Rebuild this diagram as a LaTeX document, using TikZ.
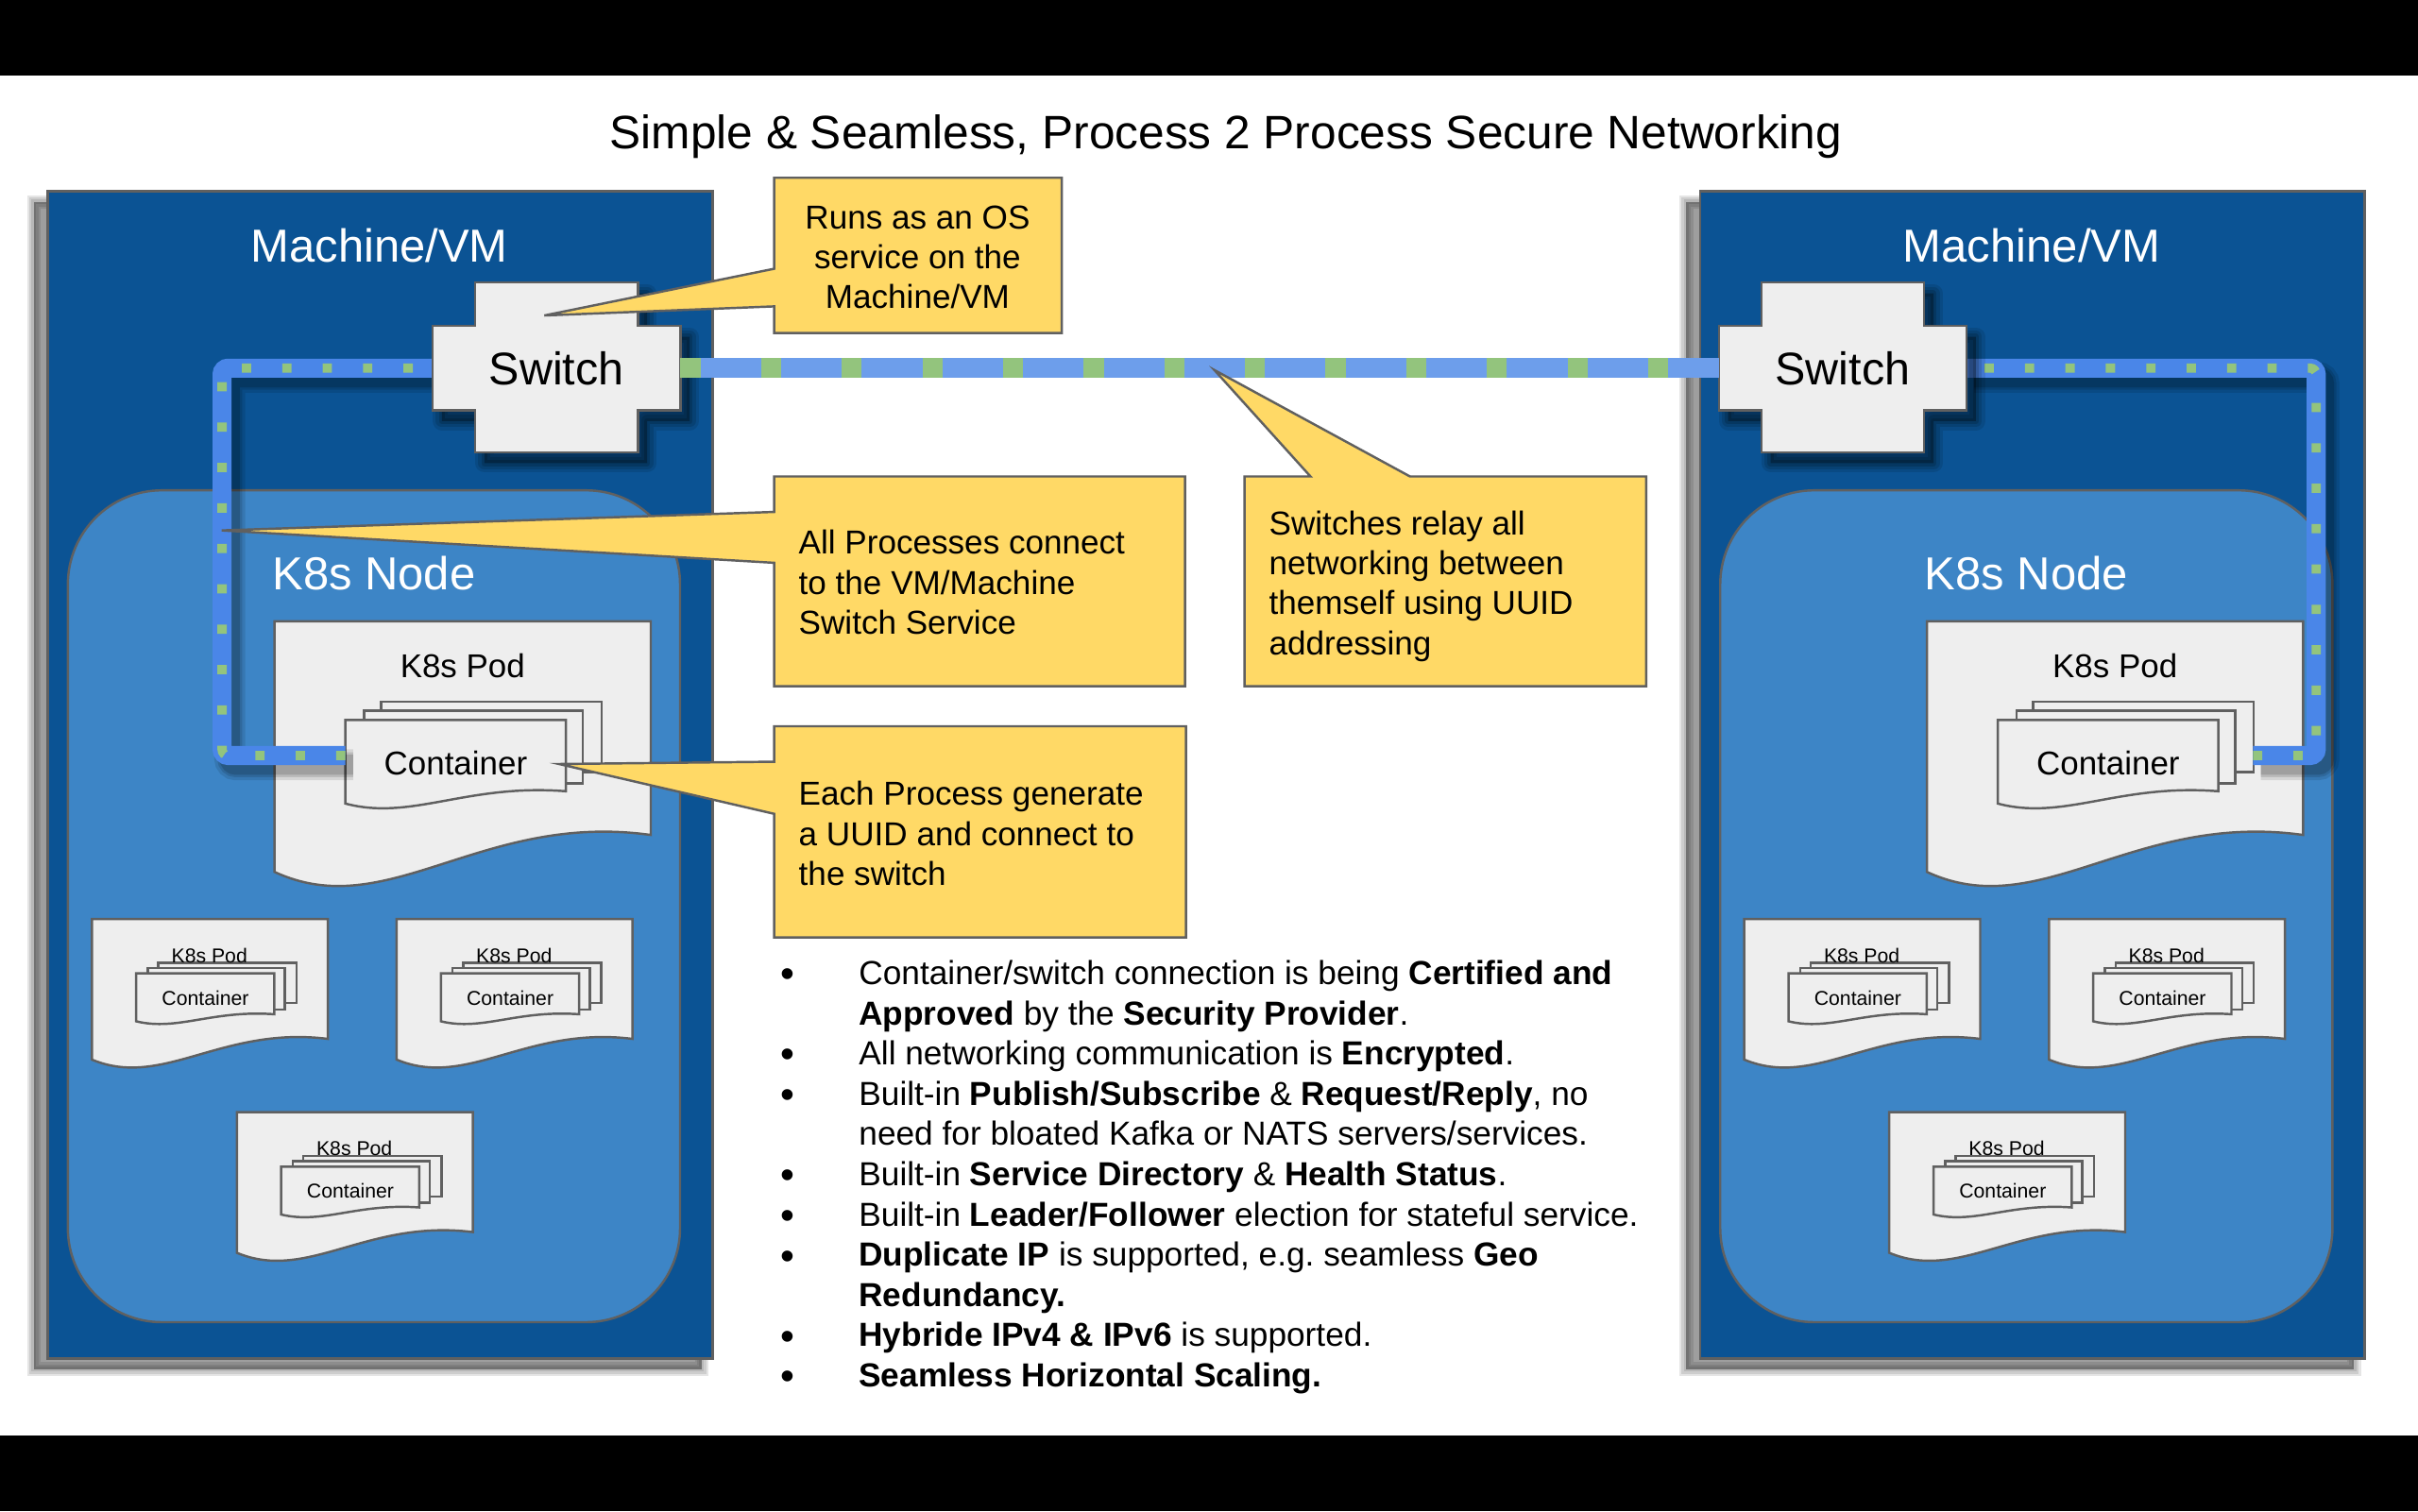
\documentclass[tikz,border=0pt]{standalone}
\usepackage{fontspec}
\setmainfont{Liberation Sans}
\usetikzlibrary{calc}
\definecolor{machblue}{HTML}{0B5394}
\definecolor{nodeblue}{HTML}{3D85C6}
\definecolor{podfill}{HTML}{EEEEEE}
\definecolor{bordergray}{HTML}{606060}
\definecolor{callyellow}{HTML}{FFD966}
\definecolor{loopblue}{HTML}{4A86E8}
\definecolor{linkblue}{HTML}{6D9EEB}
\definecolor{dotgreen}{HTML}{93C47D}
\tikzset{
  mbox/.style={fill=machblue, draw=bordergray, line width=1.5pt},
  knode/.style={fill=nodeblue, draw=bordergray, line width=1.5pt, rounded corners=61pt},
  docst/.style={fill=podfill, draw=bordergray, line width=1.5pt, line join=miter},
  swshape/.style={fill=podfill, draw=bordergray, line width=1.5pt},
  callout/.style={fill=callyellow, draw=bordergray, line width=1.5pt, line join=miter},
  loopline/.style={draw=loopblue, line width=12.3pt, rounded corners=4pt},
  loopdots/.style={draw=dotgreen, line width=6pt, dash pattern=on 6pt off 20.2pt, rounded corners=4pt},
  linkline/.style={draw=linkblue, line width=12.9pt},
  linkdash/.style={draw=dotgreen, line width=12.9pt, dash pattern=on 13pt off 39.3pt},
  basetxt/.style={inner sep=0pt, outer sep=0pt, anchor=base},
  titletxt/.style={basetxt, font=\fontsize{30.4}{36}\selectfont},
  bigtxt/.style={basetxt, text=white, font=\fontsize{30}{36}\selectfont},
  podtxt/.style={basetxt, font=\fontsize{21.4}{26}\selectfont},
  smalltxt/.style={basetxt, font=\fontsize{13}{16}\selectfont},
  swbox/.style={inner sep=0pt, outer sep=0pt, minimum width=160.6pt, minimum height=54.7pt},
  swtxt/.style={inner sep=0pt, font=\fontsize{29.7}{36}\selectfont},
  callc/.style={basetxt, font=\fontsize{21.5}{26}\selectfont},
  calll/.style={basetxt, anchor=base west, font=\fontsize{21.5}{26}\selectfont},
  bultxt/.style={basetxt, anchor=base west, font=\fontsize{21.6}{26}\selectfont},
  bulmark/.style={basetxt, font=\fontsize{26}{30}\selectfont},
}
\newcommand\docshape[4]{\begin{scope}[shift={(#1,#2)},xscale=#3,yscale=#4]
  \draw[docst] (0,0) -- (1,0) -- (1,0.81) .. controls (0.55,0.72) and (0.3,1.15) .. (0,0.95) -- cycle;
\end{scope}}
\newcommand\stackshape[4]{\begin{scope}[shift={(#1,#2)},xscale=#3,yscale=#4]
  \draw[docst] (0.161,-0.21) rectangle (1.161,0.59);
  \draw[docst] (0.084,-0.105) rectangle (1.077,0.72);
  \draw[docst] (0,0) -- (1,0) -- (1,0.81) .. controls (0.55,0.72) and (0.3,1.15) .. (0,0.95) -- cycle;
\end{scope}}
\newcommand\smallpod[3]{%
  \docshape{#1}{#2}{153}{96}
  \stackshape{#1+28.7}{#2+35.3}{89.6}{32.7}
  \node[smalltxt] (#3pod) at (#1+76.2,#2+28.3) {K8s Pod};
  \node[smalltxt] (#3con) at (#1+73.6,#2+55.9) {Container};
}
\newcommand\crosspath[1]{(#1) ++(-80.3,-27.35) -- ++(27.5,0) -- ++(0,-28.1) -- ++(105.6,0) -- ++(0,28.1) -- ++(27.5,0) -- ++(0,54.7) -- ++(-27.5,0) -- ++(0,27.3) -- ++(-105.6,0) -- ++(0,-27.3) -- ++(-27.5,0) -- cycle}
\begin{document}
\begin{tikzpicture}[x=1pt,y=-1pt]
\useasboundingbox (0,0) rectangle (1568,980);
\fill[white] (0,0) rectangle (1568,980);
\fill[black] (0,0) rectangle (1568,49);
\fill[black] (0,931) rectangle (1568,980);
\node[titletxt] (title) at (795,96.5) {Simple \& Seamless, Process 2 Process Secure Networking};

\foreach \s/\dx in {L/0,R/1071.5}{
  \foreach \k in {9,6,3}
    \draw[black, opacity=0.1, line width=\k pt] (22+\dx,131) rectangle (455+\dx,888);
  \fill[black, opacity=0.38] (22+\dx,131) rectangle (455+\dx,888);
  \draw[mbox] (31+\dx,124) rectangle (462+\dx,881);
  \node[bigtxt] (mvm\s) at (246+\dx,169.7) {Machine/VM};
  \draw[knode] (44+\dx,318) rectangle (441+\dx,857.5);
  \node[bigtxt] (k8n\s) at (242.5+\dx,382.7) {K8s Node};
  \docshape{178+\dx}{403}{244}{171}
  \stackshape{224+\dx}{467}{143}{57}
  \node[podtxt] (bigpod\s) at (300+\dx,439.7) {K8s Pod};
  \node[podtxt] (bigcon\s) at (295.5+\dx,502.7) {Container};
  \smallpod{59.6+\dx}{596}{A\s}
  \smallpod{257.2+\dx}{596}{B\s}
  \smallpod{153.6+\dx}{721.3}{C\s}
}

% switches (named boxes) and ports
\coordinate (swLc) at (360.9,238.75);
\coordinate (swRc) at (1195,238.75);
\node[swbox] (swL) at (swLc) {};
\node[swbox] (swR) at (swRc) {};
\coordinate (cLport) at (224,490);
\coordinate (cRport) at (1461,490);

% loop shadows
\foreach \k/\o in {20/0.1,16/0.12,13/0.15}{
  \draw[black, opacity=\o, line width=\k pt, rounded corners=4pt] (229,496) -- (149,496) -- (149,244.75) -- (285.6,244.75);
  \draw[black, opacity=\o, line width=\k pt, rounded corners=4pt] (1466,496) -- (1507,496) -- (1507,244.75) -- (1280,244.75);
}
% loops
\draw[loopline] (cLport) -- (144,490) -- (144,238.75) -- (swL.west);
\draw[loopdots] (cLport) -- (144,490) -- (144,238.75) -- (swL.west);
\draw[loopline] (cRport) -- (1502,490) -- (1502,238.75) -- (swR.east);
\draw[loopdots] (cRport) -- (1502,490) -- (1502,238.75) -- (swR.east);

% switch shadows and shapes
\foreach \c in {swLc,swRc}{
  \foreach \k/\o in {12/0.1,8/0.12,4/0.15}
    \draw[black, opacity=\o, line width=\k pt, line join=round] \crosspath{$(\c)+(6,7)$};
  \fill[black, opacity=0.3] \crosspath{$(\c)+(6,7)$};
  \draw[swshape] \crosspath{\c};
}
\node[swtxt] (swLt) at (swL) {Switch};
\node[swtxt] (swRt) at (swR) {Switch};

% link between switches
\draw[linkline] (swL.east) -- (swR.west);
\draw[linkdash] (swL.east) -- (swR.west);

% callouts
\coordinate (tip1) at (353,204.6);
\coordinate (tip2) at (143.7,344);
\coordinate (tip3) at (787.5,240);
\coordinate (tip4) at (362.5,495.5);
\path[callout] (502,115.3) -- (688.5,115.3) -- (688.5,216) -- (502,216) -- (502,198.7) -- (tip1) -- (502,174.3) -- cycle;
\path[callout] (502,309) -- (768.5,309) -- (768.5,445) -- (502,445) -- (502,365) -- (tip2) -- (502,332) -- cycle;
\path[callout] (807,309) -- (849.8,309) -- (tip3) -- (914.3,309) -- (1067.5,309) -- (1067.5,445) -- (807,445) -- cycle;
\path[callout] (502,471) -- (769,471) -- (769,608) -- (502,608) -- (502,527.8) -- (tip4) -- (502,494) -- cycle;

\node[callc] (c1a) at (595,148.3) {Runs as an OS};
\node[callc] (c1b) at (595,174.2) {service on the};
\node[callc] (c1c) at (595,200) {Machine/VM};
\node[calll] (c2a) at (518,359.3) {All Processes connect};
\node[calll] (c2b) at (518,385.4) {to the VM/Machine};
\node[calll] (c2c) at (518,411.5) {Switch Service};
\node[calll] (c3a) at (823,347.1) {Switches relay all};
\node[calll] (c3b) at (823,372.9) {networking between};
\node[calll] (c3c) at (823,398.7) {themself using UUID};
\node[calll] (c3d) at (823,424.5) {addressing};
\node[calll] (c4a) at (518,522.2) {Each Process generate};
\node[calll] (c4b) at (518,548.3) {a UUID and connect to};
\node[calll] (c4c) at (518,574.4) {the switch};

% bullet list
\node[bultxt] (bl1) at (557,638.5) {Container/switch connection is being \textbf{Certified and}};
\node[bultxt] (bl2) at (557,664.6) {\textbf{Approved} by the \textbf{Security Provider}.};
\node[bultxt] (bl3) at (557,690.7) {All networking communication is \textbf{Encrypted}.};
\node[bultxt] (bl4) at (557,716.8) {Built-in \textbf{Publish/Subscribe} \& \textbf{Request/Reply}, no};
\node[bultxt] (bl5) at (557,742.9) {need for bloated Kafka or NATS servers/services.};
\node[bultxt] (bl6) at (557,769) {Built-in \textbf{Service Directory} \& \textbf{Health Status}.};
\node[bultxt] (bl7) at (557,795.1) {Built-in \textbf{Leader/Follower} election for stateful service.};
\node[bultxt] (bl8) at (557,821.2) {\textbf{Duplicate IP} is supported, e.g.\ seamless \textbf{Geo}};
\node[bultxt] (bl9) at (557,847.3) {\textbf{Redundancy.}};
\node[bultxt] (bl10) at (557,873.4) {\textbf{Hybride IPv4 \& IPv6} is supported.};
\node[bultxt] (bl11) at (557,899.5) {\textbf{Seamless Horizontal Scaling.}};
\foreach \y [count=\i] in {638.5,690.7,716.8,769,795.1,821.2,873.4,899.5}
  \node[bulmark] (bm\i) at (510.8,\y+2) {\textbullet};
\end{tikzpicture}
\end{document}
